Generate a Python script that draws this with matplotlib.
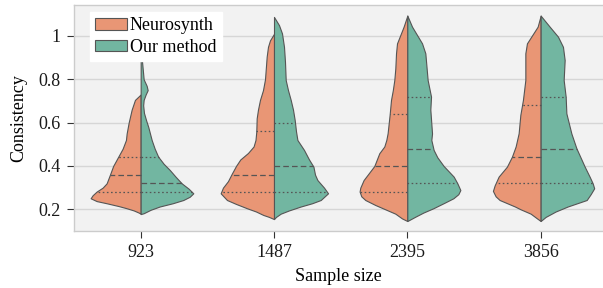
import numpy as np
import matplotlib
matplotlib.use("Agg")
import matplotlib.pyplot as plt
from matplotlib.patches import Patch
import seaborn as sns

# ---------------- data ----------------
sample_sizes = ["923", "1487", "2395", "3856"]
methods = ["Neurosynth", "Our method"]

# density profiles: consistency values (top -> bottom) and relative density
n923_y = [0.73, 0.705, 0.66, 0.60, 0.55, 0.52, 0.48, 0.443, 0.40, 0.36, 0.32, 0.30, 0.282, 0.265, 0.251, 0.238, 0.228, 0.215, 0.205, 0.195, 0.185, 0.18]
n923_d = [0, 5.7, 9, 12, 14, 14.7, 18, 22.4, 27.5, 30.7, 34, 38, 44, 48, 50, 44, 34, 22, 14, 7, 2, 0]
o923_y = [0.96, 0.875, 0.80, 0.77, 0.75, 0.73, 0.705, 0.68, 0.645, 0.61, 0.58, 0.52, 0.48, 0.443, 0.41, 0.382, 0.35, 0.32, 0.295, 0.274, 0.258, 0.243, 0.228, 0.213, 0.198, 0.182, 0.178]
o923_d = [0, 1.5, 3, 6, 7, 5, 3, 2.5, 3.3, 5.5, 7.6, 11, 14, 17.5, 23, 29, 35, 41, 48, 52.6, 49, 42.6, 32, 19, 10, 3, 0]

n1487_y = [1.01, 0.98, 0.95, 0.905, 0.80, 0.75, 0.705, 0.66, 0.62, 0.558, 0.52, 0.49, 0.46, 0.43, 0.40, 0.366, 0.33, 0.30, 0.274, 0.243, 0.225, 0.205, 0.19, 0.174, 0.165, 0.155]
n1487_d = [0, 4, 6, 7.3, 9, 11, 14, 16, 17.3, 17.7, 18.5, 20.4, 26, 33.7, 38, 42, 46, 51, 53.3, 47, 38, 27, 18, 10.7, 5, 0]
o1487_y = [1.088, 1.05, 1.012, 0.95, 0.88, 0.797, 0.75, 0.705, 0.66, 0.612, 0.56, 0.52, 0.474, 0.43, 0.397, 0.36, 0.335, 0.30, 0.274, 0.243, 0.228, 0.213, 0.195, 0.18, 0.165, 0.155]
o1487_d = [0, 5, 8, 10, 11, 11.7, 14, 16.7, 19, 20.7, 22, 23.4, 30, 35, 39.4, 41, 43.4, 50, 54, 46.7, 38, 26.7, 15, 6.7, 2, 0]

n2395_y = [1.094, 1.043, 0.966, 0.92, 0.85, 0.797, 0.75, 0.705, 0.636, 0.551, 0.52, 0.49, 0.459, 0.40, 0.335, 0.30, 0.282, 0.26, 0.243, 0.22, 0.20, 0.18, 0.158, 0.146]
n2395_d = [0, 3.7, 10.3, 11.3, 12, 13, 14.5, 16.3, 17.7, 19.7, 21, 23, 28, 33, 43.7, 47, 47.7, 46, 42, 32, 22, 12, 5.3, 0]
o2395_y = [1.094, 1.043, 0.966, 0.92, 0.797, 0.72, 0.66, 0.55, 0.52, 0.474, 0.44, 0.40, 0.351, 0.32, 0.289, 0.27, 0.251, 0.23, 0.205, 0.185, 0.166, 0.146]
o2395_d = [0, 4.7, 14.7, 18, 20.3, 23.7, 23, 24.7, 24, 26.3, 30, 36.3, 46.3, 50, 53, 51, 46, 37, 26, 16, 8, 0]

n3856_y = [1.094, 1.043, 0.966, 0.92, 0.797, 0.705, 0.636, 0.551, 0.49, 0.443, 0.397, 0.351, 0.31, 0.285, 0.26, 0.243, 0.213, 0.20, 0.18, 0.158, 0.146]
n3856_d = [0, 3, 13.7, 15.3, 15.3, 17.7, 20.3, 22, 25, 28.7, 33.7, 42, 46, 47.7, 45, 41, 25.7, 20, 10, 3.6, 0]
o3856_y = [1.094, 1.043, 0.997, 0.95, 0.889, 0.797, 0.72, 0.643, 0.55, 0.482, 0.397, 0.35, 0.32, 0.297, 0.27, 0.243, 0.213, 0.19, 0.165, 0.146]
o3856_d = [0, 9, 17.3, 22.3, 24, 23, 25, 25.7, 30.7, 35.7, 44, 49, 52, 53.5, 50, 46, 27, 15, 5, 0]

# quartiles (Q1, median, Q3)
n923_q = [0.28, 0.36, 0.44]
o923_q = [0.28, 0.32, 0.44]
n1487_q = [0.28, 0.36, 0.56]
o1487_q = [0.28, 0.40, 0.60]
n2395_q = [0.28, 0.40, 0.64]
o2395_q = [0.32, 0.48, 0.72]
n3856_q = [0.32, 0.44, 0.68]
o3856_q = [0.32, 0.48, 0.72]

ytick_vals = [0.2, 0.4, 0.6, 0.8, 1.0]
ytick_labels = ["0.2", "0.4", "0.6", "0.8", "1"]

# ---------------- style ----------------
plt.rcParams['font.family'] = ['Liberation Serif', 'DejaVu Serif']
FS = 13
plt.rcParams['font.size'] = FS

base = ["#fc8d62", "#66c2a5"]
colors = [sns.desaturate(c, 0.75) for c in base]
line_c = "#555555"
scale = 0.4 / 53.3

fig = plt.figure(figsize=(6.03, 2.88), dpi=100)
ax = fig.add_axes([74 / 603, 57 / 288, 529 / 603, 226 / 288])
ax.set_facecolor("#f2f2f2")
ax.set_axisbelow(True)
ax.yaxis.grid(True, color="#d6d6d6", lw=1.0)
ax.xaxis.grid(False)

halves = [
    [(n923_y, n923_d, n923_q), (o923_y, o923_d, o923_q)],
    [(n1487_y, n1487_d, n1487_q), (o1487_y, o1487_d, o1487_q)],
    [(n2395_y, n2395_d, n2395_q), (o2395_y, o2395_d, o2395_q)],
    [(n3856_y, n3856_d, n3856_q), (o3856_y, o3856_d, o3856_q)],
]

for i, pair in enumerate(halves):
    for j, (ys, ds, qs) in enumerate(pair):
        side = -1 if j == 0 else 1
        ys = np.asarray(ys)
        hw = np.asarray(ds) * scale
        ax.fill_betweenx(ys, i, i + side * hw, facecolor=colors[j],
                         edgecolor=line_c, lw=0.8, zorder=2)
        for k, q in enumerate(qs):
            w = np.interp(q, ys[::-1], hw[::-1])
            ls = (0, (4.5, 2.5)) if k == 1 else (0, (1.3, 2.0))
            ax.plot([i, i + side * w], [q, q], color=line_c, lw=0.9,
                    linestyle=ls, zorder=3)

ax.set_xlim(-0.5, -0.5 + 529 / 133.33)
ax.set_ylim(0.1, 1.143)
ax.set_xticks(range(len(sample_sizes)))
ax.set_xticklabels(sample_sizes)
ax.set_yticks(ytick_vals)
ax.set_yticklabels(ytick_labels)
ax.tick_params(axis="both", length=5, width=0.8, color="#333333",
               labelcolor="#1a1a1a", labelsize=FS, pad=4.5)
for s in ["left", "bottom", "top"]:
    ax.spines[s].set_color("#cccccc")
    ax.spines[s].set_linewidth(1.0)
ax.spines["right"].set_visible(False)

ax.set_xlabel("Sample size", fontsize=FS, labelpad=5)
ax.set_ylabel("Consistency", fontsize=FS, labelpad=8)

handles = [Patch(facecolor=colors[k], edgecolor=line_c, lw=0.8) for k in range(2)]
leg = ax.legend(handles, methods, loc="upper left", bbox_to_anchor=(0.030, 0.969),
                frameon=True, fancybox=False, framealpha=1, edgecolor="white",
                facecolor="white", handlelength=1.75, handleheight=0.6,
                handletextpad=0.15, labelspacing=0.25, borderpad=0.3,
                borderaxespad=0.0, fontsize=FS)
leg.set_zorder(5)

fig.savefig("out.png", dpi=100)
